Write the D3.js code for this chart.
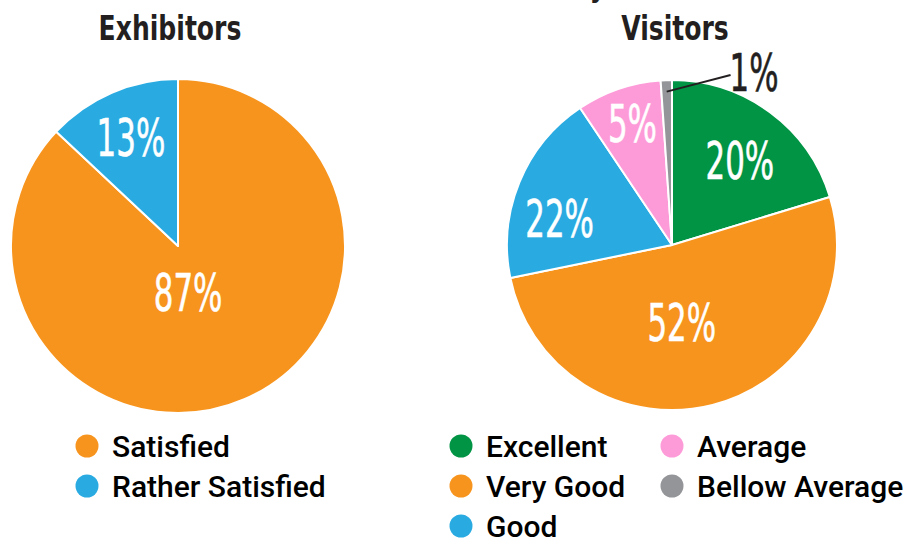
<!DOCTYPE html>
<html>
<head>
<meta charset="utf-8">
<script src="https://cdn.jsdelivr.net/npm/d3@7"></script>
<style>
  body { margin: 0; background: #fff; }
  svg { display: block; }
</style>
</head>
<body>
<svg id="chart" width="912" height="540"></svg>
<script>
// data
let exhibitorCategories = ["Satisfied", "Rather Satisfied"];
let exhibitorShares = [87, 13];
let exhibitorLabels = ["87%", "13%"];

let visitorCategories = ["Excellent", "Very Good", "Good", "Average", "Bellow Average"];
// angular shares as drawn (printed labels differ a little)
let visitorShares = [20.3, 51.5, 18.8, 8.3, 1.1];
let visitorLabels = ["20%", "52%", "22%", "5%", "1%"];

let exhibitorColors = ["#F7941D", "#29ABE2"];
let visitorColors = ["#009444", "#F7941D", "#29ABE2", "#FD9BD9", "#939598"];

let condensed = "'DejaVu Sans Condensed', 'Liberation Sans', sans-serif";

let svg = d3.select("#chart");

// cut-off page title, only the tail of the "y" shows at the top edge
svg.append("text")
   .attr("transform", "translate(606, -4) scale(0.82, 1)")
   .attr("text-anchor", "end")
   .attr("font-family", condensed)
   .attr("font-weight", "bold")
   .attr("font-size", 34)
   .attr("fill", "#231F20")
   .text("Satisfaction Survey");

function drawPie(cfg) {
  let data = cfg.categories.map((c, i) => ({
    category: c, share: cfg.shares[i], label: cfg.labels[i], color: cfg.colors[i]
  }));

  let pie = d3.pie().sort(null).value(d => d.share);
  let arcs = pie(data);

  let arc = d3.arc().innerRadius(0).outerRadius(cfg.r);

  let g = svg.append("g")
             .attr("transform", `translate(${cfg.cx}, ${cfg.cy})`);

  g.selectAll("path")
   .data(arcs)
   .enter()
   .append("path")
   .attr("d", arc)
   .attr("fill", d => d.data.color)
   .attr("stroke", "#fff")
   .attr("stroke-width", 2)
   .attr("stroke-linejoin", "round");

  // title
  svg.append("text")
     .attr("transform", `translate(${cfg.titleX}, 40) scale(0.82, 1)`)
     .attr("text-anchor", "middle")
     .attr("font-family", condensed)
     .attr("font-weight", "bold")
     .attr("font-size", 34)
     .attr("fill", "#231F20")
     .text(cfg.title);

  // slice labels
  arcs.forEach((d, k) => {
    let mid = (d.startAngle + d.endAngle) / 2;
    if (cfg.outside[k]) {
      let p0 = [Math.sin(mid) * cfg.r * 0.93, -Math.cos(mid) * cfg.r * 0.93];
      let a1 = cfg.outside[k].angle * Math.PI / 180;
      let p1 = [Math.sin(a1) * cfg.r * cfg.outside[k].radius, -Math.cos(a1) * cfg.r * cfg.outside[k].radius];
      g.append("line")
       .attr("x1", p0[0]).attr("y1", p0[1])
       .attr("x2", p1[0]).attr("y2", p1[1])
       .attr("stroke", "#231F20")
       .attr("stroke-width", 2);
      g.append("text")
       .attr("transform", `translate(${p1[0] - 1}, ${p1[1] + 16}) scale(0.66, 1)`)
       .attr("font-family", condensed)
       .attr("font-size", 52)
       .attr("fill", "#231F20")
       .attr("stroke", "#231F20")
       .attr("stroke-width", 0.6)
       .text(d.data.label);
    } else {
      let a = mid + cfg.labelShift[k] * Math.PI / 180;
      let rr = cfg.r * cfg.labelR[k];
      let x = Math.sin(a) * rr;
      let y = -Math.cos(a) * rr;
      g.append("text")
       .attr("transform", `translate(${x}, ${y + 19}) scale(0.66, 1)`)
       .attr("text-anchor", "middle")
       .attr("font-family", condensed)
       .attr("font-size", 52)
       .attr("fill", "#fff")
       .attr("stroke", "#fff")
       .attr("stroke-width", 0.6)
       .text(d.data.label);
    }
  });

  // legend, filled column by column
  let legend = svg.append("g");
  data.forEach((d, i) => {
    let col = Math.floor(i / cfg.rows);
    let row = i % cfg.rows;
    let lx = cfg.legendX + col * cfg.colGap;
    let ly = cfg.legendY + row * 40;
    legend.append("circle")
          .attr("cx", lx)
          .attr("cy", ly)
          .attr("r", 11.5)
          .attr("fill", d.color);
    legend.append("text")
          .attr("x", lx + 25)
          .attr("y", ly + 11)
          .attr("font-family", "Roboto, 'Liberation Sans', sans-serif")
          .attr("font-weight", 500)
          .attr("font-size", 30)
          .attr("fill", "#000")
          .text(d.category);
  });
}

drawPie({
  title: "Exhibitors", titleX: 170,
  categories: exhibitorCategories, shares: exhibitorShares,
  labels: exhibitorLabels, colors: exhibitorColors,
  cx: 178, cy: 246, r: 167,
  labelR: [0.28, 0.71], labelShift: [11, 0], outside: [null, null],
  legendX: 87, legendY: 446, rows: 2, colGap: 0
});

drawPie({
  title: "Visitors", titleX: 675,
  categories: visitorCategories, shares: visitorShares,
  labels: visitorLabels, colors: visitorColors,
  cx: 672, cy: 245, r: 165,
  labelR: [0.66, 0.47, 0.70, 0.78, 0], labelShift: [2, 7, -9, 1, 0],
  outside: [null, null, null, null, {angle: 19, radius: 1.09}],
  legendX: 461, legendY: 446, rows: 3, colGap: 211
});
</script>
</body>
</html>
